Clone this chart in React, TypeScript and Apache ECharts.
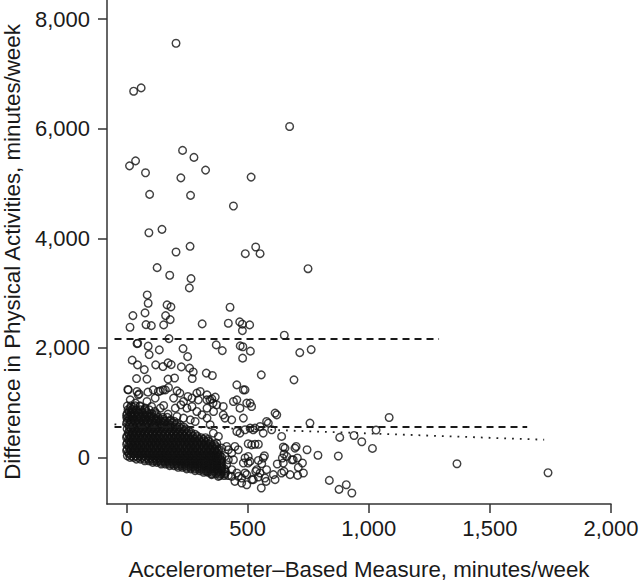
import { useEffect, useRef } from "react";
import * as echarts from "echarts";

const xTicks = [0, 500, 1000, 1500, 2000];
const yTicks = [0, 2000, 4000, 6000, 8000];
const xName = "Accelerometer\u2013Based Measure, minutes/week";
const yName = "Difference in Physical Activities, minutes/week";

// reference lines [x, y]
const upperLimit = [[-50, 2160], [1290, 2160]];
const lowerLimit = [[-50, 555], [1654, 555]];
const regressionLine = [[-50, 605], [1724, 323]];

const highPoints = [
  [204, 7560], [29, 6685], [60, 6745], [673, 6041], [231, 5604], [278, 5476], [12, 5323], [37, 5414],
  [78, 5196], [224, 5104], [326, 5245], [514, 5117], [95, 4802], [264, 4784], [441, 4589], [92, 4102],
  [146, 4164], [204, 3750], [262, 3854], [490, 3719], [533, 3841], [551, 3719], [749, 3445], [126, 3464],
  [178, 3325], [266, 3263], [259, 3094], [85, 2966],
];

const upperPoints = [
  [89, 2815], [167, 2784], [183, 2747], [26, 2589], [76, 2638], [161, 2589], [180, 2516], [14, 2377],
  [80, 2425], [102, 2406], [153, 2419], [312, 2437], [427, 2742], [420, 2450], [467, 2474], [478, 2432],
  [508, 2419], [478, 2315], [651, 2231], [175, 2169], [43, 2078], [46, 2085], [89, 2031], [135, 1963],
  [233, 1987], [93, 1878], [252, 1841], [370, 2054], [395, 1951], [469, 2036], [480, 2020], [511, 1940],
  [479, 1812], [715, 1914], [762, 1969], [556, 1508], [691, 1416], [23, 1775], [45, 1690], [73, 1604],
  [120, 1690], [150, 1659], [171, 1726], [184, 1695], [226, 1653], [260, 1630], [329, 1539], [354, 1495],
  [275, 1560], [41, 1440], [84, 1430], [171, 1430], [198, 1450], [271, 1440], [455, 1325],
];

const midPoints = [
  [5, 1240], [43, 1203], [52, 1161], [88, 1192], [139, 1216], [160, 1234], [173, 1276], [208, 1216],
  [253, 1112], [290, 1174], [304, 1203], [332, 1143], [352, 1070], [366, 1101], [357, 992], [15, 900],
  [29, 915], [56, 930], [77, 900], [103, 930], [116, 839], [139, 900], [153, 948], [171, 791],
  [201, 900], [224, 961], [249, 900], [270, 930], [290, 839], [311, 778], [332, 900], [359, 839],
  [208, 747], [235, 718], [263, 687], [283, 656], [332, 718], [345, 596], [1, 718], [22, 778],
  [50, 747], [77, 687], [98, 747], [125, 687], [153, 656], [180, 687], [270, 1083], [235, 1021],
  [194, 1083], [118, 1083], [84, 1021], [36, 992], [15, 1052], [7, 1234], [48, 1143], [110, 1234],
  [131, 1203], [151, 1234], [220, 1174], [296, 1052], [344, 1052], [399, 930], [455, 1052], [496, 992],
  [482, 1234], [489, 1234], [441, 1021], [468, 900], [510, 992], [516, 930], [372, 961], [331, 1052],
  [399, 778], [406, 718], [482, 718], [434, 687],
];

const rightPoints = [
  [523, 505], [564, 445], [599, 505], [640, 383], [578, 656], [585, 627], [551, 565], [757, 627],
  [613, 809], [620, 778], [455, 474], [468, 445], [489, 505], [510, 535], [530, 535], [647, 190],
  [700, 200], [745, 140], [790, 40], [650, 62], [643, -11], [682, -42], [705, -11], [726, -102],
  [709, -182], [622, -120], [650, -255], [675, -315], [706, -328], [730, -284], [613, -406], [556, -558],
  [576, -437], [571, -376], [544, -357], [533, -255], [551, -284], [517, -406], [496, -315], [447, -437],
  [475, -467], [496, -498], [434, -346], [461, -346], [489, -284], [537, -224], [558, -115], [544, -55],
  [564, -11], [569, 31], [509, -73], [489, -11], [502, 18], [502, -102], [482, -102], [530, 240],
  [544, 240], [502, 250], [516, 230], [447, 200], [461, 140], [434, 80], [420, 140], [420, -42],
  [441, -42], [413, -133], [434, -224], [455, -284], [475, -376], [523, -406], [578, -224], [606, -315],
  [640, -284], [654, 171], [661, 18], [688, -42], [647, -102], [358, 445], [379, 383], [372, 262],
  [393, 171], [365, 109], [344, 18], [386, -42], [358, -164], [331, -255], [351, -315], [379, -346],
  [406, 18], [413, 200], [695, 171],
];

const farPoints = [
  [1084, 729], [1030, 500], [880, 365], [939, 401], [971, 286], [1015, 164], [874, 26], [837, -419],
  [877, -583], [907, -498], [930, -649], [1364, -115], [1740, -279],
];

// dense cluster near the origin: [difference, accelerometer values...]
const clusterRows: [number, number[]][] = [
  [940, [3, 18, 36, 55]],
  [870, [6, 22, 39, 57, 74, 93]],
  [835, [10, 27, 45, 63, 82]],
  [800, [2, 17, 33, 50, 68, 85, 104, 123]],
  [765, [0, 14, 31, 48, 65, 83, 101, 119]],
  [730, [8, 24, 41, 58, 76, 95, 112, 131, 150, 168]],
  [695, [12, 29, 46, 63, 80, 98, 116, 134, 152]],
  [660, [3, 19, 35, 52, 70, 88, 104, 121, 140, 158, 177, 196]],
  [625, [0, 15, 32, 49, 66, 83, 100, 117, 135, 153, 171, 189, 208]],
  [590, [9, 26, 42, 60, 77, 94, 112, 130, 147, 165, 184, 203, 222]],
  [555, [10, 27, 44, 61, 78, 95, 112, 129, 146, 164, 182, 200, 218, 236]],
  [520, [2, 18, 34, 51, 68, 86, 103, 120, 138, 156, 173, 190, 208, 226, 244]],
  [485, [12, 29, 46, 63, 80, 97, 115, 132, 150, 167, 185, 203, 220, 238, 256]],
  [455, [7, 23, 40, 57, 74, 91, 108, 126, 143, 160, 178, 195, 213, 231, 249, 266]],
  [420, [9, 25, 42, 58, 75, 92, 109, 126, 143, 160, 177, 195, 212, 230, 248, 265, 283]],
  [390, [1, 17, 33, 50, 66, 83, 100, 117, 134, 151, 169, 186, 204, 221, 239, 256, 274, 292]],
  [360, [0, 16, 33, 50, 67, 84, 101, 118, 135, 152, 169, 186, 203, 220, 237, 255, 272, 290, 308, 326]],
  [330, [8, 25, 41, 58, 75, 92, 109, 126, 143, 160, 177, 194, 211, 228, 246, 263, 281, 299, 318, 336]],
  [300, [11, 28, 45, 62, 79, 96, 113, 130, 147, 164, 181, 198, 215, 233, 250, 267, 285, 302, 320, 338]],
  [270, [3, 19, 36, 53, 70, 87, 104, 121, 138, 155, 172, 189, 206, 224, 241, 258, 276, 293, 311, 329, 347]],
  [240, [0, 17, 34, 51, 68, 85, 102, 119, 136, 153, 170, 187, 204, 221, 239, 257, 274, 292, 309, 327, 345, 362]],
  [210, [9, 26, 43, 60, 77, 94, 111, 128, 145, 162, 179, 196, 213, 230, 248, 265, 283, 300, 318, 336, 354, 368]],
  [180, [11, 27, 44, 61, 78, 95, 112, 129, 146, 163, 180, 197, 214, 231, 249, 266, 284, 301, 319, 337, 355, 373]],
  [150, [2, 18, 35, 52, 69, 86, 103, 120, 137, 154, 171, 188, 205, 222, 240, 257, 275, 292, 310, 328, 346, 364, 380]],
  [120, [0, 16, 33, 50, 67, 84, 101, 118, 135, 152, 169, 186, 203, 220, 238, 256, 273, 291, 309, 327, 345, 363, 378]],
  [90, [8, 25, 42, 59, 76, 93, 110, 127, 144, 161, 178, 195, 212, 229, 247, 264, 282, 300, 318, 336, 354, 372]],
  [60, [11, 28, 45, 62, 79, 96, 113, 130, 147, 164, 181, 198, 216, 233, 251, 269, 287, 305, 323, 341, 359, 377]],
  [30, [3, 20, 37, 54, 71, 88, 105, 122, 139, 156, 173, 190, 207, 225, 242, 260, 278, 296, 314, 332, 350, 368, 386]],
  [0, [14, 29, 46, 63, 80, 97, 114, 131, 148, 165, 182, 199, 216, 234, 251, 269, 287, 305, 323, 341, 359, 377, 393]],
  [-30, [40, 57, 74, 91, 108, 125, 142, 159, 176, 193, 210, 228, 245, 263, 281, 299, 317, 335, 353, 371, 389]],
  [-60, [75, 92, 109, 126, 143, 160, 177, 194, 211, 229, 247, 265, 283, 301, 319, 337, 355, 373, 391]],
  [-90, [108, 125, 142, 159, 176, 193, 210, 228, 246, 264, 282, 300, 318, 336, 354, 372, 390]],
  [-120, [143, 160, 177, 194, 211, 229, 247, 265, 283, 301, 319, 337, 355, 373, 392]],
  [-150, [178, 195, 212, 229, 247, 265, 283, 301, 319, 337, 355, 373, 391]],
  [-180, [213, 230, 247, 265, 283, 301, 319, 337, 355, 373, 392]],
  [-210, [248, 265, 283, 301, 319, 337, 355, 373, 391, 405]],
  [-240, [283, 301, 319, 337, 355, 373, 391, 407]],
  [-270, [318, 336, 354, 372, 390, 408]],
  [-300, [352, 370, 388, 405]],
  [-330, [385, 403, 420]],
];

const FONT = "'Liberation Sans', Arial, Helvetica, sans-serif";
const INK = "#1a1a1a";

function fmt(v: number) {
  return String(v).replace(/\B(?=(\d{3})+(?!\d))/g, ",");
}

export default function App() {
  const ref = useRef<HTMLDivElement>(null);
  useEffect(() => {
    document.body.style.margin = "0";
    const chart = echarts.init(ref.current!, null, { renderer: "svg" });
    const clusterPoints: number[][] = [];
    clusterRows.forEach(([y, xs]) => xs.forEach((x) => clusterPoints.push([x, y])));
    const allPoints = [
      ...clusterPoints,
      ...midPoints,
      ...rightPoints,
      ...upperPoints,
      ...highPoints,
      ...farPoints,
    ];
    const axisCommon = {
      type: "value",
      nameLocation: "middle",
      nameTextStyle: { fontSize: 22.3, color: INK, fontFamily: FONT },
      axisLine: { show: true, onZero: false, lineStyle: { color: "#333", width: 1.5 } },
      axisTick: { show: true, length: 9, lineStyle: { color: "#333", width: 1.5 } },
      splitLine: { show: false },
    };
    chart.setOption({
      animation: false,
      backgroundColor: "#fff",
      grid: { left: 107, right: 29, top: 0, bottom: 77, containLabel: false, outerBoundsMode: "none" },
      xAxis: {
        ...axisCommon,
        min: -81,
        max: 2000,
        name: xName,
        nameGap: 54,
        axisTick: { ...axisCommon.axisTick, customValues: xTicks },
        axisLabel: {
          customValues: xTicks,
          formatter: (v: number) => fmt(v),
          fontSize: 22,
          color: INK,
          fontFamily: FONT,
          margin: 13,
        },
      },
      yAxis: {
        ...axisCommon,
        min: -850,
        max: 8350,
        name: yName,
        nameGap: 84,
        axisTick: { ...axisCommon.axisTick, customValues: yTicks },
        axisLabel: {
          customValues: yTicks,
          formatter: (v: number) => fmt(v),
          fontSize: 22,
          color: INK,
          fontFamily: FONT,
          margin: 17,
        },
      },
      series: [
        {
          type: "scatter",
          data: allPoints,
          symbol: "circle",
          symbolSize: 7.6,
          large: false,
          silent: true,
          itemStyle: { color: "rgba(0,0,0,0)", borderColor: "#111", borderWidth: 1.45 },
        },
        {
          type: "line",
          data: upperLimit,
          symbol: "none",
          silent: true,
          lineStyle: { color: "#1a1a1a", width: 2, type: [7, 5] },
        },
        {
          type: "line",
          data: lowerLimit,
          symbol: "none",
          silent: true,
          lineStyle: { color: "#1a1a1a", width: 2, type: [7, 5] },
        },
        {
          type: "line",
          data: regressionLine,
          symbol: "none",
          silent: true,
          lineStyle: { color: "#222", width: 1.8, type: [1.8, 6] },
        },
      ],
    });
    return () => chart.dispose();
  }, []);
  return <div ref={ref} style={{ width: 640, height: 581 }} />;
}
